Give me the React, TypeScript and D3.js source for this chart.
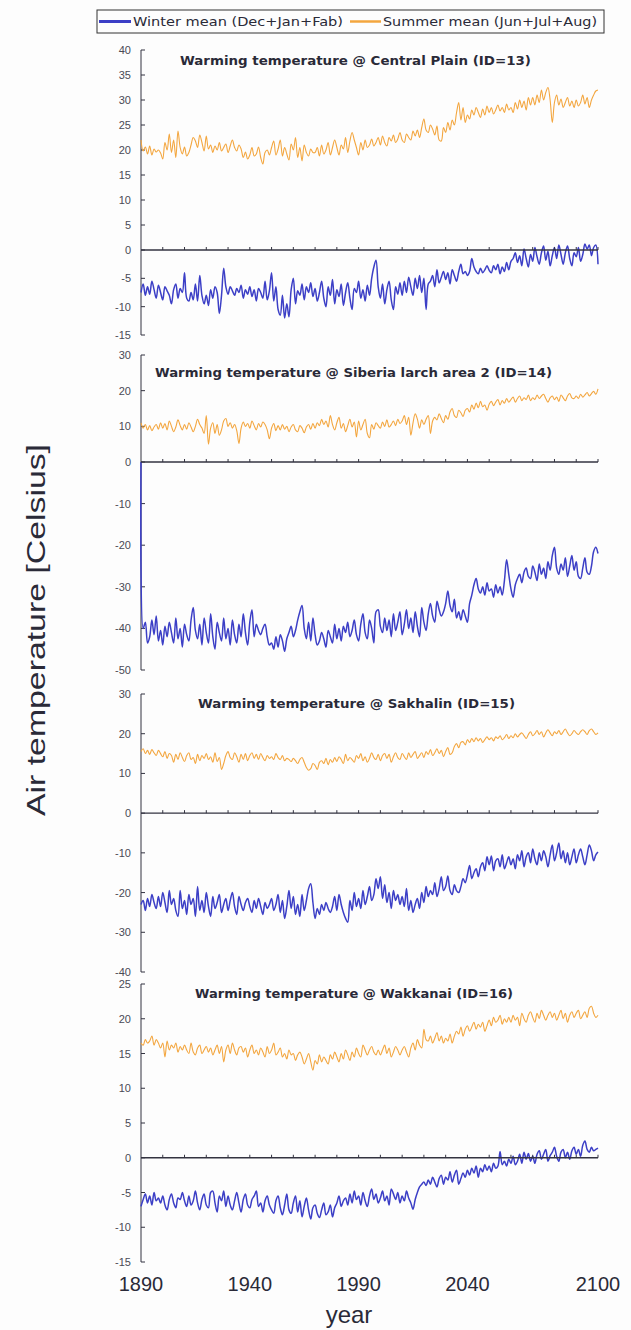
import React from 'react';
import * as d3 from 'd3';

const YEARS: number[] = d3.range(1890, 2101);
const X_TICK_LABELS = [1890, 1940, 1990, 2040, 2100];
const DECADE_TICKS = d3.range(1900, 2101, 10);

const LEGEND_WINTER = 'Winter mean (Dec+Jan+Fab)';
const LEGEND_SUMMER = 'Summer mean (Jun+Jul+Aug)';

const CP_SUMMER = [
  22.0, 19.8, 20.6, 19.2, 20.8, 19.0, 20.2, 19.6, 20.0, 19.4,
  18.2, 21.5, 20.0, 23.2, 19.5, 22.0, 18.5, 23.8, 20.5, 19.2,
  20.6, 18.8, 19.5, 21.0, 22.5, 21.8, 20.5, 23.0, 21.5, 19.8,
  22.8, 20.2, 21.0, 19.5, 20.8, 20.0, 21.5, 19.8, 20.5, 21.2,
  19.5, 20.8, 22.0, 20.5, 19.8, 21.0, 20.2, 18.5, 19.6, 18.2,
  19.0, 20.5, 18.8, 19.2, 20.6, 18.5, 17.2, 19.5, 20.0, 19.0,
  20.5, 21.8, 19.0, 20.2, 22.0, 18.8, 20.5, 19.2, 18.0, 21.2,
  20.0, 22.5, 18.5, 20.5, 17.8, 21.0, 19.5, 18.8, 20.2, 19.5,
  19.5, 20.5, 18.8, 21.0, 19.2, 20.0, 21.5, 19.0, 20.5, 22.0,
  20.5, 19.0, 21.0, 20.2, 22.5, 19.5, 21.8, 23.5, 22.0, 20.5,
  19.0, 21.5, 20.0, 22.0, 20.5, 21.0, 22.2, 20.8, 21.5, 22.5,
  21.0, 22.8, 21.5, 20.8, 22.5, 21.8, 23.0, 21.5, 22.2, 23.5,
  22.0, 21.5, 23.2, 22.5, 22.0, 23.8, 22.8, 24.0, 22.5, 24.5,
  26.2, 24.0, 23.5, 25.0, 24.2, 23.0, 24.8, 22.0, 21.8, 24.5,
  23.5, 25.5, 24.0, 26.0, 25.0, 27.5, 29.5, 26.0, 28.5, 25.5,
  27.0, 26.2, 28.0, 27.0, 28.5, 27.5, 26.5, 28.2, 27.0, 28.8,
  27.5, 28.5, 27.2, 28.0, 29.0, 27.8, 28.5, 27.5, 29.2, 28.0,
  28.5, 27.5, 29.5, 28.2, 30.0, 28.5, 29.8, 28.0, 30.5, 29.0,
  30.5, 29.0, 31.0, 29.5, 32.0, 30.0, 31.5, 32.5, 30.0, 25.5,
  29.5, 31.0, 29.0, 30.2, 28.5, 29.5, 30.5, 28.8, 29.8, 28.5,
  30.0, 28.8, 29.5, 31.0, 29.2, 30.5, 28.5, 30.0, 31.0, 31.8,
  32.0,
];

const CP_WINTER = [
  -7.5, -6.0, -8.0, -6.5, -7.8, -5.5, -7.0, -8.5, -6.2, -7.5,
  -8.8, -6.5, -7.2, -8.0, -9.5, -7.0, -6.0, -8.5, -6.8, -7.5,
  -4.0, -8.5, -9.0, -7.5, -8.8, -6.0, -9.0, -4.5, -8.0, -9.5,
  -8.0, -9.8, -7.0, -8.5, -6.5, -7.5, -11.2, -8.0, -3.2, -6.5,
  -7.8, -6.5, -7.2, -8.0, -6.8, -7.5, -6.2, -8.5, -7.0, -7.8,
  -6.5, -8.2, -7.0, -9.0, -6.8, -7.5, -8.5, -5.5, -8.8, -7.2,
  -4.0, -9.0, -6.5, -10.5, -11.5, -8.0, -12.0, -9.5, -11.8, -7.0,
  -5.0, -9.5, -7.2, -8.0, -6.0, -8.8, -6.5, -7.5, -5.8, -8.2,
  -6.8, -9.0, -7.5, -5.5, -8.5, -10.0, -6.5, -8.0, -5.2, -9.5,
  -7.0, -8.2, -6.0, -9.8, -7.5, -5.8, -8.5, -10.5, -6.8, -7.5,
  -5.5, -8.5, -7.0, -9.0, -6.2, -8.0, -5.0, -3.0, -1.8, -6.5,
  -8.5, -6.0, -9.5, -7.0, -5.5, -8.8, -10.5, -6.5, -7.8, -5.8,
  -8.0, -5.5, -7.5, -4.8, -6.5, -8.0, -5.0, -6.8, -4.5, -7.5,
  -5.0, -10.5, -6.0, -5.5, -4.5, -6.5, -3.5, -5.8, -4.8, -3.8,
  -5.2, -4.0, -6.0, -3.5, -4.5, -5.5, -3.8, -2.5, -4.2, -3.8,
  -4.5, -3.8, -1.5, -3.0, -3.8, -4.2, -3.2, -4.0, -3.5, -2.8,
  -3.6, -4.0, -2.8, -3.5, -2.5, -4.2, -3.0, -3.8, -2.2, -3.5,
  -2.0, -1.5, -0.5, -2.2, -1.0, -2.8, 0.2, -1.5, -3.0, -0.8,
  -2.0, 0.5, -1.2, -2.5, -0.5, 0.8, -1.8, -0.2, -2.8, -1.0,
  0.5, -1.5, 1.0, -0.8, -2.5, -0.5, 0.8, -1.5, -2.8, -0.5,
  -1.2, 0.5, -2.0, -0.8, 1.2, 0.2, 1.0, -1.0, 0.5, 1.0,
  -2.5,
];

const SL_SUMMER = [
  11.0, 9.5, 10.5, 9.0, 10.2, 8.8, 9.8, 10.5, 9.2, 11.0,
  9.5, 10.8, 9.0, 11.5, 10.0, 8.5, 9.8, 11.8, 10.2, 9.0,
  10.5, 9.2, 11.0, 9.8, 8.5, 10.0, 12.0, 10.5, 9.5, 8.0,
  13.0, 5.0, 9.5, 11.0, 8.0, 10.5, 7.5, 9.0, 11.5, 12.2,
  10.0, 11.0, 9.5, 10.5, 8.8, 5.2, 9.5, 11.2, 10.0, 10.8,
  9.5, 11.5, 10.2, 9.0, 10.8, 9.8, 11.2, 10.5, 9.0, 6.5,
  9.5, 10.8, 8.8, 10.2, 9.0, 10.5, 9.2, 10.0, 8.5, 9.8,
  10.5, 9.0, 8.5, 10.2, 9.5, 8.2, 9.8, 10.5, 9.2, 10.8,
  9.5, 11.0, 10.2, 12.0, 10.5, 11.5, 9.8, 13.0, 10.5, 9.0,
  11.0, 12.5, 9.5, 10.8, 8.5, 10.2, 12.0, 9.8, 11.2, 7.0,
  11.5, 9.0, 10.5, 12.0, 8.0, 6.8, 10.5, 9.2, 11.0, 10.2,
  9.5, 11.2, 10.0, 11.8, 9.8, 10.5, 11.5, 10.2, 12.0, 10.8,
  11.5, 13.0, 10.5, 12.5, 7.5, 11.0, 13.5, 12.0, 9.5, 11.8,
  10.5, 12.0, 13.0, 8.0, 11.5, 12.5, 11.8, 13.5, 12.2, 11.0,
  13.0, 12.0, 14.0, 15.0, 13.0, 12.5, 14.5, 13.8, 12.8, 14.5,
  15.0, 14.0, 16.0, 14.8, 16.5, 15.2, 17.0, 15.5, 16.0, 14.5,
  16.2, 17.0, 15.8, 16.8, 17.5, 16.0, 17.2, 16.5, 17.8, 16.8,
  17.5, 18.2, 16.8, 17.8, 18.5, 17.2, 18.0, 17.5, 18.8, 17.2,
  18.0, 17.5, 18.8, 17.8, 18.5, 19.0, 17.8, 16.8, 18.0, 18.5,
  17.5, 18.2, 17.0, 18.8, 18.0, 17.2, 18.5, 19.2, 18.0, 17.8,
  18.5, 17.8, 19.0, 18.2, 18.8, 19.5, 18.5, 19.2, 19.8, 19.0,
  20.5,
];

const SL_WINTER = [
  0.0, -40.0, -38.5, -43.5, -42.0, -38.0, -41.5, -37.0, -43.0, -40.5,
  -44.0, -39.5, -42.0, -38.5, -41.0, -43.5, -37.5, -42.5, -40.0, -44.5,
  -39.0, -41.5, -43.0, -38.0, -35.0, -40.5, -42.5, -39.0, -44.0, -37.5,
  -41.0, -43.5, -36.5, -42.0, -45.0, -38.5, -41.0, -43.0, -37.5, -42.5,
  -40.0, -44.0, -38.0, -41.5, -43.5, -39.0, -42.0, -36.5, -41.0, -44.0,
  -38.5, -35.5, -42.0, -39.0, -40.5, -41.5, -40.0, -39.0, -42.0, -44.0,
  -43.5, -45.0, -42.0, -44.5, -41.5, -43.0, -45.5, -42.5, -41.0, -39.5,
  -42.0, -40.5, -38.0, -36.0, -34.5, -40.0, -42.5, -38.5, -43.0, -37.5,
  -41.5, -44.0, -43.0, -41.0, -42.5, -44.5, -40.5, -42.0, -43.5, -39.0,
  -42.5, -40.0, -43.0, -39.5, -41.0, -38.5, -42.0, -40.5, -38.0, -41.5,
  -43.0, -39.0, -36.5, -41.0, -42.5, -38.0, -40.0, -43.5, -36.0, -35.5,
  -39.5, -41.0, -37.5, -40.5, -38.0, -42.0, -36.5, -40.5, -38.5, -36.0,
  -41.5, -39.0, -35.5, -40.0, -37.5, -41.0, -36.0, -39.5, -42.0, -35.0,
  -38.5, -40.5, -36.5, -34.0, -37.0, -38.5, -33.5, -35.5, -37.0, -36.0,
  -34.0, -31.0, -34.5, -36.0, -33.0, -37.5, -36.0, -38.0, -35.5, -37.0,
  -38.5, -34.0, -32.0, -29.5, -28.0, -30.5, -31.5, -30.0, -32.0, -29.0,
  -31.0, -30.5, -32.5, -29.5, -31.5, -30.0, -32.0, -28.5, -23.5, -27.0,
  -30.5, -32.5, -29.5, -28.0, -27.0, -29.0, -26.5, -25.5, -27.5, -28.0,
  -25.0, -26.5, -28.5, -24.5, -27.0, -25.5, -28.0, -24.0, -26.0, -22.5,
  -20.5, -25.5, -27.0, -24.5, -26.0, -23.0, -27.5, -25.0, -22.5, -26.0,
  -24.0, -27.5, -28.0, -25.5, -23.0, -26.5, -27.0, -25.0, -21.5, -20.5,
  -22.0,
];

const SK_SUMMER = [
  15.5, 16.2, 15.0, 15.8, 14.8, 16.0, 15.2, 14.5, 15.8, 15.0,
  14.2, 15.5, 13.8, 15.0, 14.5, 12.8, 14.8, 13.5, 15.2, 14.0,
  13.0, 14.5, 15.2, 13.5, 14.0, 12.5, 14.8, 13.2, 14.5, 13.8,
  15.0, 13.5, 14.2, 12.8, 15.2, 13.0, 14.0, 11.0, 12.5, 14.5,
  15.5, 14.0, 13.5, 15.2, 14.2, 12.8, 14.8, 13.5, 15.0, 13.2,
  14.5, 15.2, 13.8, 14.8, 13.5, 15.0, 14.0, 13.2, 14.5, 13.8,
  14.2, 13.5, 15.0, 14.0, 13.5, 14.5, 13.2, 13.8, 13.5, 13.0,
  13.8, 13.2, 12.5, 13.5, 14.0, 12.8, 11.5, 10.8, 11.2, 12.5,
  12.0, 11.0, 12.8, 13.2, 12.5, 13.8, 12.2, 13.5, 12.8, 14.0,
  13.0, 14.2, 13.5, 12.5, 14.8, 13.2, 14.0, 13.5, 12.8, 14.5,
  13.8, 15.0, 13.2, 14.2, 12.8, 13.8, 15.2, 14.0, 13.5, 14.8,
  13.2, 14.5, 15.0, 13.8, 14.8, 12.8, 14.2, 15.2, 14.0, 13.5,
  15.0, 14.2, 13.5, 15.2, 14.0, 14.8, 15.5, 13.8, 14.5, 15.2,
  14.0, 15.5, 14.8, 16.0, 14.5, 15.2, 16.2, 15.0, 15.8, 14.2,
  15.5, 16.5, 14.8, 15.2, 16.8, 17.5, 16.5, 17.8, 18.0, 17.2,
  18.5, 17.8, 18.8, 18.0, 19.0, 18.2, 18.8, 17.8, 18.5, 19.2,
  18.5, 19.0, 18.2, 19.2, 18.8, 19.5, 18.5, 19.0, 19.8, 18.8,
  19.5, 19.0, 20.0, 19.2, 19.8, 20.2, 19.5, 18.8, 19.8, 20.5,
  19.5, 20.0, 20.8, 19.8, 20.5, 19.2, 20.2, 21.0, 20.2, 19.5,
  20.5, 20.0, 20.8, 19.8, 20.5, 21.2, 20.2, 19.5, 20.0, 20.8,
  20.2, 19.8, 20.5, 21.0, 20.5, 19.8, 20.8, 21.2, 20.5, 19.8,
  20.2,
];

const SK_WINTER = [
  -23.0, -22.0, -24.5, -21.5, -23.5, -20.5, -22.5, -24.0, -21.0, -23.5,
  -20.0, -22.5, -25.0, -19.5, -23.0, -21.5, -24.5, -26.0, -19.5, -24.0,
  -22.0, -25.5, -20.5, -23.0, -21.5, -26.0, -18.5, -24.5, -22.0, -25.0,
  -20.0, -23.5, -26.0, -21.0, -24.0, -22.5, -20.5, -25.0, -23.0, -21.5,
  -24.5, -22.0, -20.0, -23.5, -25.5, -21.0, -23.0, -24.5, -22.5, -21.5,
  -23.5, -25.0, -22.0, -24.0, -21.5, -23.5, -25.5, -22.5, -24.0, -23.0,
  -21.5, -24.5, -23.0, -20.5, -25.0, -22.0, -26.5, -23.5, -19.5, -24.0,
  -21.0, -25.5, -23.0, -26.0, -20.5, -24.5, -22.0, -19.0, -17.8, -22.5,
  -26.5, -24.0, -25.5, -23.0, -24.5, -22.5, -24.0, -25.0, -23.5, -21.0,
  -24.5, -20.5, -23.0, -25.0, -26.5, -27.5, -22.0, -24.5, -20.0, -23.5,
  -21.5, -24.0, -19.5, -23.0, -21.0, -18.5, -22.0, -20.5, -16.5, -19.0,
  -16.0, -21.5, -18.0, -22.5, -20.0, -24.0, -19.5, -22.0, -20.5, -23.0,
  -21.0, -23.5, -19.0, -24.5, -22.0, -25.0, -23.0, -21.5, -24.0, -20.0,
  -22.5, -18.5, -21.0, -19.5, -20.5, -17.5, -21.0, -19.0, -16.0, -19.5,
  -18.5, -15.8, -19.5, -20.5, -18.0, -19.5, -20.0, -18.5, -16.5, -17.5,
  -15.5, -13.2, -16.5, -15.0, -14.0, -16.0, -13.5, -12.5, -14.5, -11.0,
  -13.0, -10.8, -14.5, -12.0, -11.5, -13.5, -10.5, -14.0, -12.5, -11.0,
  -13.0, -11.5, -14.0, -10.5, -12.0, -9.5, -13.5, -11.0, -10.0, -12.5,
  -9.0, -11.5, -13.0, -10.0, -12.0, -9.5, -11.0, -13.5, -10.5, -8.0,
  -12.0, -10.0, -7.5, -11.5, -9.5, -12.5, -10.0, -13.0, -11.0, -9.0,
  -12.5, -10.5, -9.0, -11.0, -13.0, -10.5, -8.0, -9.5, -12.0, -10.5,
  -9.8,
];

const WK_SUMMER = [
  16.5, 16.2, 17.0, 16.5, 16.8, 17.5, 16.2, 17.0, 16.5, 15.8,
  16.5, 14.5, 16.8, 15.5, 16.2, 15.8, 16.5, 15.2, 16.0, 15.5,
  16.2, 15.5, 15.0, 16.5, 15.2, 14.8, 15.8, 16.2, 15.0, 15.5,
  16.0, 15.2, 15.8, 14.8, 15.5, 16.2, 15.0, 16.0, 13.8, 15.5,
  16.2, 15.0, 16.5, 15.5, 14.8, 15.8, 16.0, 15.2, 15.8, 14.5,
  15.5, 16.2, 15.0, 15.5, 14.8, 15.8, 15.2, 14.5, 16.0, 15.0,
  15.5, 16.5, 14.8, 15.2, 15.8, 14.5, 15.0, 14.2, 15.5, 14.8,
  15.0, 14.0, 14.8, 15.2, 14.5, 13.5, 14.2, 15.0, 13.8, 12.6,
  14.0, 13.5, 14.8, 13.8, 14.5, 14.0, 13.5, 14.8, 14.2, 15.2,
  14.5, 13.8, 15.0, 14.2, 15.5, 14.8, 14.0, 15.2, 14.5, 15.8,
  15.0, 14.5, 16.2, 15.5, 14.8, 15.5, 16.0, 15.2, 14.8, 15.5,
  14.8, 15.5, 16.2, 15.0, 15.8, 14.5, 15.2, 16.0, 15.5, 14.8,
  15.5, 16.0, 15.2, 14.5, 15.8, 16.5, 15.5, 17.0, 16.2, 15.8,
  18.5, 17.0, 16.8, 17.5, 16.5, 17.2, 18.0, 16.8, 17.5, 16.5,
  17.2, 16.8, 17.8, 16.5, 17.5, 18.2, 17.8, 18.8, 17.5, 18.5,
  19.0, 18.2, 18.8, 19.5, 18.5, 19.2, 18.8, 19.5, 18.2, 19.0,
  19.8, 19.0, 20.2, 19.5, 19.8, 20.5, 19.2, 20.0, 19.5, 20.2,
  19.5, 20.5, 19.8, 20.2, 19.0, 20.8, 20.0, 19.5, 20.5, 21.0,
  20.2, 19.5, 20.8, 20.0, 21.2, 20.5, 19.8, 20.5, 21.0, 20.2,
  20.8, 19.8, 20.5, 21.2, 20.0, 20.8, 19.5, 20.5, 21.0, 20.2,
  20.8, 21.2, 20.0, 20.5, 21.0, 20.2, 21.5, 21.8, 20.8, 20.2,
  20.5,
];

const WK_WINTER = [
  -7.0, -6.0, -5.2, -6.5, -5.5, -6.8, -5.0, -6.2, -5.8, -6.5,
  -5.5, -6.8, -7.5, -6.0, -5.2, -6.5, -7.2, -5.8, -6.0, -5.0,
  -6.2, -7.0, -5.5, -6.8, -6.2, -4.8, -6.5, -7.5, -6.0, -5.2,
  -6.8, -7.2, -5.0, -4.8, -6.5, -7.8, -5.5, -6.2, -4.8, -7.0,
  -5.5, -6.8, -7.5, -6.2, -5.0, -6.5, -7.8, -6.0, -5.2, -6.8,
  -7.2, -6.0, -5.5, -4.8, -7.0, -6.5, -7.8, -6.2, -5.5, -6.8,
  -7.5, -8.0, -6.2, -5.5, -7.2, -8.2, -6.8, -5.2, -7.5, -8.0,
  -6.5, -5.5, -7.8, -6.2, -8.5, -7.0, -5.8, -7.5, -8.8, -7.2,
  -6.8, -8.0, -8.6, -7.5, -6.5, -8.2, -7.8, -6.8, -8.5, -7.2,
  -6.5, -5.5, -7.0, -6.2, -5.8, -6.8, -5.2, -6.5, -4.8, -6.0,
  -5.5, -6.8, -5.0, -6.2, -7.0, -5.5, -4.5, -6.0, -5.2, -6.5,
  -5.8, -4.8, -6.2, -5.5, -6.8, -4.5, -5.2, -6.0, -5.0, -6.5,
  -5.5, -6.2, -4.8, -5.8, -6.5, -7.4, -6.0, -5.0, -4.2, -3.8,
  -3.5, -4.0, -3.2, -3.8, -2.8, -3.5, -4.2, -3.0, -2.5, -3.8,
  -2.8, -3.2, -2.0, -3.5, -2.5, -1.8, -3.8, -3.0, -2.2, -2.8,
  -1.8, -2.5, -1.5, -2.2, -1.2, -2.8, -1.5, -2.0, -1.0, -1.8,
  -1.2, -2.0, -0.8, -1.5, -1.2, 0.9, -1.0, -0.5, -1.2, -0.2,
  -0.8, 0.2, -1.0, -0.5, 0.5, -0.8, 0.8, -0.2, 0.6, -0.5,
  0.2, -0.8, 0.5, 1.0, -0.2, 0.5, 1.2, -0.5, 0.3, 0.8,
  1.5, 0.2, -0.5, 0.8, 1.2, 0.0, 0.8, -0.2, 1.0, 1.5,
  0.5, 1.2, 0.2, 1.8, 2.4, 1.2, 0.8, 1.5, 1.0, 1.2,
  1.4,
];

const WINTER_COLOR = '#3c3fc6';
const SUMMER_COLOR = '#f3a63f';
const AXIS_COLOR = '#333340';
const TEXT_COLOR = '#2a2a38';

const PANELS = [
  {
    title: 'Warming temperature @ Central Plain (ID=13)',
    titleX: 180, titleY: 65, titleW: 351,
    yDomain: [-15, 0, 40], yRange: [335, 250, 50],
    ticks: d3.range(-15, 41, 5),
    winter: CP_WINTER, summer: CP_SUMMER,
  },
  {
    title: 'Warming temperature @ Siberia larch area 2 (ID=14)',
    titleX: 155, titleY: 377, titleW: 397,
    yDomain: [-50, 0, 30], yRange: [670, 462, 355],
    ticks: d3.range(-50, 31, 10),
    winter: SL_WINTER, summer: SL_SUMMER,
  },
  {
    title: 'Warming temperature @ Sakhalin (ID=15)',
    titleX: 198, titleY: 708, titleW: 317,
    yDomain: [-40, 30], yRange: [972, 694],
    ticks: d3.range(-40, 31, 10),
    winter: SK_WINTER, summer: SK_SUMMER,
  },
  {
    title: 'Warming temperature @ Wakkanai (ID=16)',
    titleX: 195, titleY: 998, titleW: 318,
    yDomain: [-15, 25], yRange: [1262, 984],
    ticks: d3.range(-15, 26, 5),
    winter: WK_WINTER, summer: WK_SUMMER,
  },
];

export default function App() {
  const x = d3.scaleLinear().domain([1890, 2100]).range([141, 598]);
  const x0 = x(1890);

  return (
    <svg
      width={631}
      height={1330}
      style={{ position: 'absolute', left: 0, top: 0, background: '#fdfdfd' }}
    >
      {/* Legend */}
      <rect x={97} y={10} width={507} height={23} fill="#fdfdfd" stroke="#333" strokeWidth={1} />
      <line x1={99} x2={131} y1={21.5} y2={21.5} stroke={WINTER_COLOR} strokeWidth={3} />
      <text x={133} y={26} fontFamily="DejaVu Sans" fontSize={13} fill={TEXT_COLOR}
        textLength={210} lengthAdjust="spacingAndGlyphs">{LEGEND_WINTER}</text>
      <line x1={350} x2={381} y1={21.5} y2={21.5} stroke={SUMMER_COLOR} strokeWidth={2.5} />
      <text x={383} y={26} fontFamily="DejaVu Sans" fontSize={13} fill={TEXT_COLOR}
        textLength={214} lengthAdjust="spacingAndGlyphs">{LEGEND_SUMMER}</text>

      {PANELS.map((p, pi) => {
        const y = d3.scaleLinear().domain(p.yDomain).range(p.yRange);
        const line = d3
          .line<number>()
          .x((_, i) => x(YEARS[i]))
          .y((d) => y(d))
          .curve(d3.curveCatmullRom.alpha(0.5));
        const yTop = y(p.yDomain[p.yDomain.length - 1]);
        const yBot = y(p.yDomain[0]);
        const y0 = y(0);
        return (
          <g key={pi}>
            {/* y axis */}
            <line x1={x0} x2={x0} y1={yTop} y2={yBot} stroke={AXIS_COLOR} strokeWidth={1} />
            {p.ticks.map((t) => (
              <g key={t}>
                <line x1={x0} x2={x0 + 4} y1={y(t)} y2={y(t)} stroke={AXIS_COLOR} strokeWidth={1} />
                <text x={131} y={y(t) + 4} textAnchor="end" fontFamily="Liberation Sans"
                  fontSize={11} fill="#4a4a55">{t}</text>
              </g>
            ))}
            {/* title */}
            <text x={p.titleX} y={p.titleY} fontFamily="DejaVu Sans" fontWeight="bold"
              fontSize={13} fill={TEXT_COLOR} textLength={p.titleW}
              lengthAdjust="spacingAndGlyphs">{p.title}</text>
            {/* series */}
            <path d={line(p.summer) || ''} fill="none" stroke={SUMMER_COLOR} strokeWidth={1.1} />
            <path d={line(p.winter) || ''} fill="none" stroke={WINTER_COLOR} strokeWidth={1.5} />
            {/* zero line with decade ticks */}
            <line x1={x0} x2={x(2100)} y1={y0} y2={y0} stroke={AXIS_COLOR} strokeWidth={1.3} />
            {DECADE_TICKS.map((yr) => (
              <line key={yr} x1={x(yr)} x2={x(yr)} y1={y0} y2={y0 - 3}
                stroke={AXIS_COLOR} strokeWidth={1} />
            ))}
          </g>
        );
      })}

      {/* x tick labels */}
      {X_TICK_LABELS.map((yr) => (
        <text key={yr} x={x(yr)} y={1291} textAnchor="middle" fontFamily="Liberation Sans"
          fontSize={20} fill={TEXT_COLOR}>{yr}</text>
      ))}
      <text x={349} y={1323} textAnchor="middle" fontFamily="Liberation Sans" fontSize={24}
        fill={TEXT_COLOR}>year</text>

      {/* y title */}
      <text transform="translate(45,630) rotate(-90)" textAnchor="middle"
        fontFamily="Liberation Sans" fontSize={25} fill={TEXT_COLOR}
        textLength={372} lengthAdjust="spacingAndGlyphs">Air temperature [Celsius]</text>
    </svg>
  );
}
